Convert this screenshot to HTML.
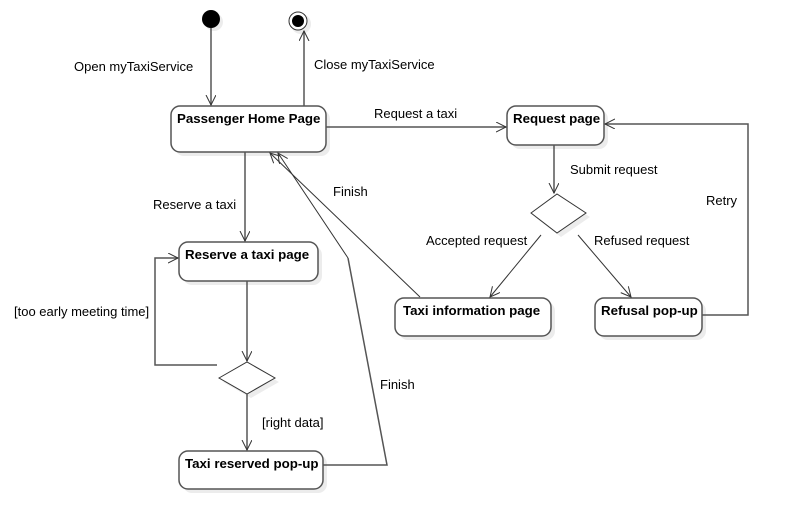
<!DOCTYPE html>
<html><head><meta charset="utf-8"><style>
html,body{margin:0;padding:0;background:#fff;}
svg{display:block;}
text{font-family:"Liberation Sans",sans-serif;font-size:13px;fill:#000;}
.b{font-weight:bold;font-size:13.3px;}
</style></head><body>
<svg width="788" height="529" viewBox="0 0 788 529">
<defs>
<marker id="a" markerWidth="12" markerHeight="12" refX="10" refY="5" orient="auto" markerUnits="userSpaceOnUse">
<path d="M0,0 L10,5 L0,10" fill="none" stroke="#333" stroke-width="1"/>
</marker>
</defs>
<g fill="#ececec">
<rect x="175" y="110" width="155" height="46" rx="9"/>
<rect x="511" y="110" width="97" height="39" rx="9"/>
<rect x="183" y="246" width="139" height="39" rx="9"/>
<rect x="399" y="302" width="156" height="38" rx="9"/>
<rect x="599" y="302" width="107" height="38" rx="9"/>
<rect x="183" y="455" width="144" height="38" rx="9"/>
<circle cx="214" cy="22" r="9"/>
<circle cx="301" cy="24" r="10"/>
<polygon points="535,217 561,198 590,217 561,237"/>
<polygon points="223,382 251,366 279,382 251,398"/>
</g>
<g fill="#fff" stroke="#555" stroke-width="1.5">
<rect x="171" y="106" width="155" height="46" rx="9"/>
<rect x="507" y="106" width="97" height="39" rx="9"/>
<rect x="179" y="242" width="139" height="39" rx="9"/>
<rect x="395" y="298" width="156" height="38" rx="9"/>
<rect x="595" y="298" width="107" height="38" rx="9"/>
<rect x="179" y="451" width="144" height="38" rx="9"/>
</g>
<g fill="#fff" stroke="#333" stroke-width="1">
<polygon points="531,213 557,194 586,213 557,233"/>
<polygon points="219,378 247,362 275,378 247,394"/>
</g>
<circle cx="211" cy="19" r="9" fill="#000"/>
<circle cx="298" cy="21" r="9" fill="#fff" stroke="#333" stroke-width="1"/>
<circle cx="298" cy="21" r="6" fill="#000"/>
<g fill="none" stroke="#555" stroke-width="1.5">
<line x1="211" y1="28" x2="211" y2="105" marker-end="url(#a)"/>
<line x1="304" y1="106" x2="304" y2="31" marker-end="url(#a)"/>
<line x1="326" y1="127" x2="506" y2="127" marker-end="url(#a)"/>
<line x1="554" y1="145" x2="554" y2="193" marker-end="url(#a)"/>
<polyline points="702,315 748,315 748,124 605,124" marker-end="url(#a)"/>
<line x1="245" y1="152" x2="245" y2="241" marker-end="url(#a)"/>
<line x1="247" y1="281" x2="247" y2="361" marker-end="url(#a)"/>
<polyline points="217,365 155,365 155,258 178,258" marker-end="url(#a)"/>
<line x1="247" y1="394" x2="247" y2="450" marker-end="url(#a)"/>
<polyline points="323,465 387,465 348,258"/>
</g>
<g fill="none" stroke="#333" stroke-width="1">
<line x1="541" y1="235" x2="490" y2="297" marker-end="url(#a)"/>
<line x1="578" y1="235" x2="631" y2="297" marker-end="url(#a)"/>
<line x1="420" y1="297" x2="270" y2="153" marker-end="url(#a)"/>
<line x1="348" y1="258" x2="278" y2="153" marker-end="url(#a)"/>
</g>
<text class="b" x="177" y="123">Passenger Home Page</text>
<text class="b" x="513" y="123">Request page</text>
<text class="b" x="185" y="259">Reserve a taxi page</text>
<text class="b" x="403" y="315">Taxi information page</text>
<text class="b" x="601" y="315">Refusal pop-up</text>
<text class="b" x="185" y="468">Taxi reserved pop-up</text>
<text x="74" y="71">Open myTaxiService</text>
<text x="314" y="69">Close myTaxiService</text>
<text x="374" y="118">Request a taxi</text>
<text x="570" y="174">Submit request</text>
<text x="333" y="196">Finish</text>
<text x="153" y="209">Reserve a taxi</text>
<text x="706" y="205">Retry</text>
<text x="426" y="245">Accepted request</text>
<text x="594" y="245">Refused request</text>
<text x="14" y="316">[too early meeting time]</text>
<text x="380" y="389">Finish</text>
<text x="262" y="427">[right data]</text>
</svg>
</body></html>
